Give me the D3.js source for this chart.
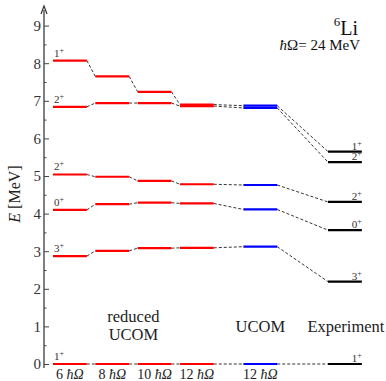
<!DOCTYPE html>
<html>
<head>
<meta charset="utf-8">
<script src="https://cdn.jsdelivr.net/npm/d3@7"></script>
<style>
  body { margin: 0; background: #fff; }
  svg { display: block; }
  svg text { font-family: "Liberation Serif", "Times New Roman", serif; }
</style>
</head>
<body>
<svg class="chart" width="386" height="381" font-family="Liberation Serif"></svg>
<script>
// Spectrum of 6Li: levels per calculation
var columnLabels = ["6 ħΩ", "8 ħΩ", "10 ħΩ", "12 ħΩ", "12 ħΩ", ""];
var columnKinds  = ["reduced", "reduced", "reduced", "reduced", "ucom", "exp"];
var stateSpins   = ["1", "3", "0", "2", "2", "1"];

var red6   = [0, 2.87, 4.10, 5.04, 6.84, 8.07];
var red8   = [0, 3.01, 4.25, 4.98, 6.94, 7.65];
var red10  = [0, 3.08, 4.29, 4.87, 6.94, 7.24];
var red12  = [0, 3.09, 4.27, 4.78, 6.86, 6.90];
var ucom12 = [0, 3.12, 4.11, 4.76, 6.81, 6.87];
var expt   = [0, 2.19, 3.56, 4.31, 5.37, 5.65];

var yTicks = [0, 1, 2, 3, 4, 5, 6, 7, 8, 9];

document.addEventListener("DOMContentLoaded", function() {
    var FONT = "Liberation Serif";
    var svg = d3.select("svg.chart");
    var columns = [red6, red8, red10, red12, ucom12, expt];
    var slots = [0, 1, 2, 3, 4.5, 6.5];   // horizontal slot of each column
    var colors = { reduced: "#ff0000", ucom: "#0000ff", exp: "#000000" };

    var x = d3.scaleLinear().domain([0, 6.5]).range([53, 328]);
    var w = x(0.8) - x(0);
    var y = d3.scaleLinear().domain([0, 9]).range([364, 25.6]);

    // axis
    svg.append("line")
        .attr("x1", 44).attr("x2", 44)
        .attr("y1", 368).attr("y2", 10)
        .attr("stroke", "#808080")
        .attr("stroke-width", 2);
    svg.append("path")
        .attr("d", "M41,14 L44,6 L47,14")
        .attr("fill", "none")
        .attr("stroke", "#333")
        .attr("stroke-width", 1.2);

    var axis = svg.append("g")
        .attr("transform", "translate(44,0)")
        .call(d3.axisLeft(y).tickValues(yTicks).tickSizeInner(-5).tickSizeOuter(0).tickPadding(3).tickFormat(d3.format("d")));
    axis.attr("font-family", FONT).attr("font-size", 15);
    axis.select(".domain").remove();
    axis.selectAll("line").attr("stroke", "#444").attr("stroke-width", 1);
    axis.selectAll("text").attr("fill", "#333");

    var minor = svg.append("g")
        .attr("transform", "translate(44,0)")
        .call(d3.axisLeft(y).tickValues(yTicks.map(function(d) { return d + 0.5; }).filter(function(d) { return d < 9; }))
            .tickSizeInner(-2.5).tickSizeOuter(0).tickFormat(""));
    minor.select(".domain").remove();
    minor.selectAll("line").attr("stroke", "#444");

    // connectors
    for (var c = 0; c < columns.length - 1; c++) {
        columns[c].forEach(function(v, i) {
            svg.append("line")
                .attr("x1", x(slots[c]) + w).attr("y1", y(v))
                .attr("x2", x(slots[c + 1])).attr("y2", y(columns[c + 1][i]))
                .attr("stroke", "#000")
                .attr("stroke-width", 0.8)
                .style("stroke-dasharray", "3, 2");
        });
    }

    // levels
    columns.forEach(function(col, c) {
        svg.append("g").selectAll("line")
            .data(col)
            .enter().append("line")
            .attr("x1", x(slots[c]))
            .attr("x2", x(slots[c]) + w)
            .attr("y1", function(d) { return y(d); })
            .attr("y2", function(d) { return y(d); })
            .attr("stroke", colors[columnKinds[c]])
            .attr("stroke-width", 2.2);
    });

    // spin labels, left of first column and right of experiment
    function spin(sel) {
        sel.append("tspan").text(function(d, i) { return stateSpins[i]; });
        sel.append("tspan").attr("dy", -4).attr("font-size", 8).text("+");
    }
    svg.append("g").selectAll("text")
        .data(red6)
        .enter().append("text")
        .attr("x", x(slots[0]) + 1)
        .attr("y", function(d) { return y(d) - 4; })
        .attr("font-family", FONT)
        .attr("font-size", 11)
        .attr("fill", "#333")
        .call(spin);
    svg.append("g").selectAll("text")
        .data(expt)
        .enter().append("text")
        .attr("x", x(slots[5]) + w)
        .attr("y", function(d) { return y(d) - 2; })
        .attr("text-anchor", "end")
        .attr("font-family", FONT)
        .attr("font-size", 11)
        .attr("fill", "#333")
        .call(spin);

    // column labels
    svg.append("g").selectAll("text")
        .data(columnLabels)
        .enter().append("text")
        .attr("x", function(d, i) { return x(slots[i]) + w / 2; })
        .attr("y", 379)
        .attr("text-anchor", "middle")
        .attr("font-family", FONT)
        .attr("font-size", 14)
        .attr("fill", "#222")
        .each(function(d) {
            var parts = d.split(" ");
            if (!parts[0]) return;
            d3.select(this).append("tspan").text(parts[0] + " ");
            d3.select(this).append("tspan").attr("font-style", "italic").text(parts[1]);
        });

    function label(tx, ty, str) {
        return svg.append("text").attr("x", tx).attr("y", ty).attr("text-anchor", "middle")
            .attr("font-family", FONT).attr("font-size", 16.5).attr("fill", "#222").text(str);
    }
    var xReduced = (x(slots[1]) + x(slots[2]) + w) / 2;
    label(xReduced, 322, "reduced");
    label(xReduced, 340, "UCOM");
    label(x(slots[4]) + w / 2, 332, "UCOM");
    label(x(slots[5]) + w / 2 + 1, 332, "Experiment");

    // title
    var title = svg.append("text").attr("x", 358).attr("y", 35).attr("text-anchor", "end")
        .attr("font-family", FONT).attr("fill", "#111");
    title.append("tspan").attr("font-size", 13).attr("dy", -9).text("6");
    title.append("tspan").attr("font-size", 20).attr("dy", 9).text("Li");
    var hw = svg.append("text").attr("x", 360).attr("y", 50).attr("text-anchor", "end")
        .attr("font-family", FONT).attr("font-size", 15).attr("fill", "#111");
    hw.append("tspan").attr("font-style", "italic").text("ħ");
    hw.append("tspan").text("Ω= 24 MeV");

    // y label
    var yl = svg.append("text")
        .attr("transform", "translate(20,194) rotate(-90)")
        .attr("text-anchor", "middle")
        .attr("font-family", FONT)
        .attr("font-size", 16)
        .attr("fill", "#222");
    yl.append("tspan").attr("font-style", "italic").text("E");
    yl.append("tspan").text(" [MeV]");
});
</script>
</body>
</html>
